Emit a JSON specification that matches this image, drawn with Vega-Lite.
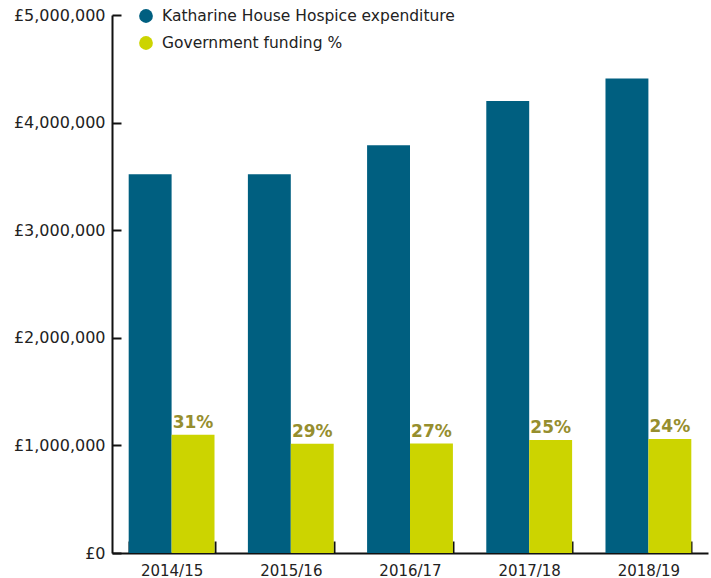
{
  "$schema": "https://vega.github.io/schema/vega-lite/v6.json",
  "width": 596,
  "height": 538,
  "autosize": "none",
  "padding": {"left": 112, "top": 15, "right": 3, "bottom": 25},
  "config": {
    "view": {"stroke": null},
    "font": "DejaVu Sans",
    "axis": {"grid": false, "ticks": true, "domainColor": "#111", "tickColor": "#111", "domainWidth": 2, "tickWidth": 2, "labelColor": "#222", "labelFontSize": 15, "labelFont": "DejaVu Sans", "title": null}
  },
  "data": {
    "values": [
      {"year": "2014/15", "series": "Katharine House Hospice expenditure", "value": 3520000, "pct": ""},
      {"year": "2015/16", "series": "Katharine House Hospice expenditure", "value": 3520000, "pct": ""},
      {"year": "2016/17", "series": "Katharine House Hospice expenditure", "value": 3790000, "pct": ""},
      {"year": "2017/18", "series": "Katharine House Hospice expenditure", "value": 4200000, "pct": ""},
      {"year": "2018/19", "series": "Katharine House Hospice expenditure", "value": 4410000, "pct": ""},
      {"year": "2014/15", "series": "Government funding %", "value": 1100000, "pct": "31%"},
      {"year": "2015/16", "series": "Government funding %", "value": 1015000, "pct": "29%"},
      {"year": "2016/17", "series": "Government funding %", "value": 1017000, "pct": "27%"},
      {"year": "2017/18", "series": "Government funding %", "value": 1050000, "pct": "25%"},
      {"year": "2018/19", "series": "Government funding %", "value": 1060000, "pct": "24%"}
    ]
  },
  "encoding": {
    "x": {
      "field": "year", "type": "nominal",
      "scale": {"paddingInner": 0.28, "paddingOuter": 0.14},
      "axis": {"labelAngle": 0, "ticks": true, "tickBand": "extent", "tickSize": -12, "tickColor": "#111", "tickWidth": 2, "labelPadding": 22, "labelFontSize": 15}
    },
    "xOffset": {"field": "series", "type": "nominal", "sort": ["Katharine House Hospice expenditure", "Government funding %"], "scale": {"paddingInner": 0, "paddingOuter": 0}},
    "y": {
      "field": "value", "type": "quantitative",
      "scale": {"domain": [0, 5000000], "nice": false},
      "axis": {"values": [0, 1000000, 2000000, 3000000, 4000000, 5000000], "ticks": true, "tickSize": -9, "tickColor": "#111", "tickWidth": 2, "labelPadding": 16, "labelFontSize": 16, "labelExpr": "'£' + format(datum.value, ',')"}
    }
  },
  "layer": [
    {
      "mark": {"type": "bar"},
      "encoding": {
        "color": {
          "field": "series", "type": "nominal",
          "sort": ["Katharine House Hospice expenditure", "Government funding %"],
          "scale": {"domain": ["Katharine House Hospice expenditure", "Government funding %"], "range": ["#005f80", "#ccd400"]},
          "legend": {"title": null, "orient": "none", "legendX": 26, "legendY": -7, "symbolType": "circle", "symbolSize": 190, "labelFontSize": 15.5, "labelOffset": 8, "labelColor": "#222", "labelFont": "DejaVu Sans", "labelLimit": 500, "rowPadding": 10, "symbolOpacity": 1}
        }
      }
    },
    {
      "transform": [{"filter": "datum.pct != ''"}],
      "mark": {"type": "text", "fontSize": 17, "fontWeight": "bold", "color": "#968e2e", "baseline": "bottom", "dy": -3},
      "encoding": {"text": {"field": "pct"}}
    }
  ]
}
